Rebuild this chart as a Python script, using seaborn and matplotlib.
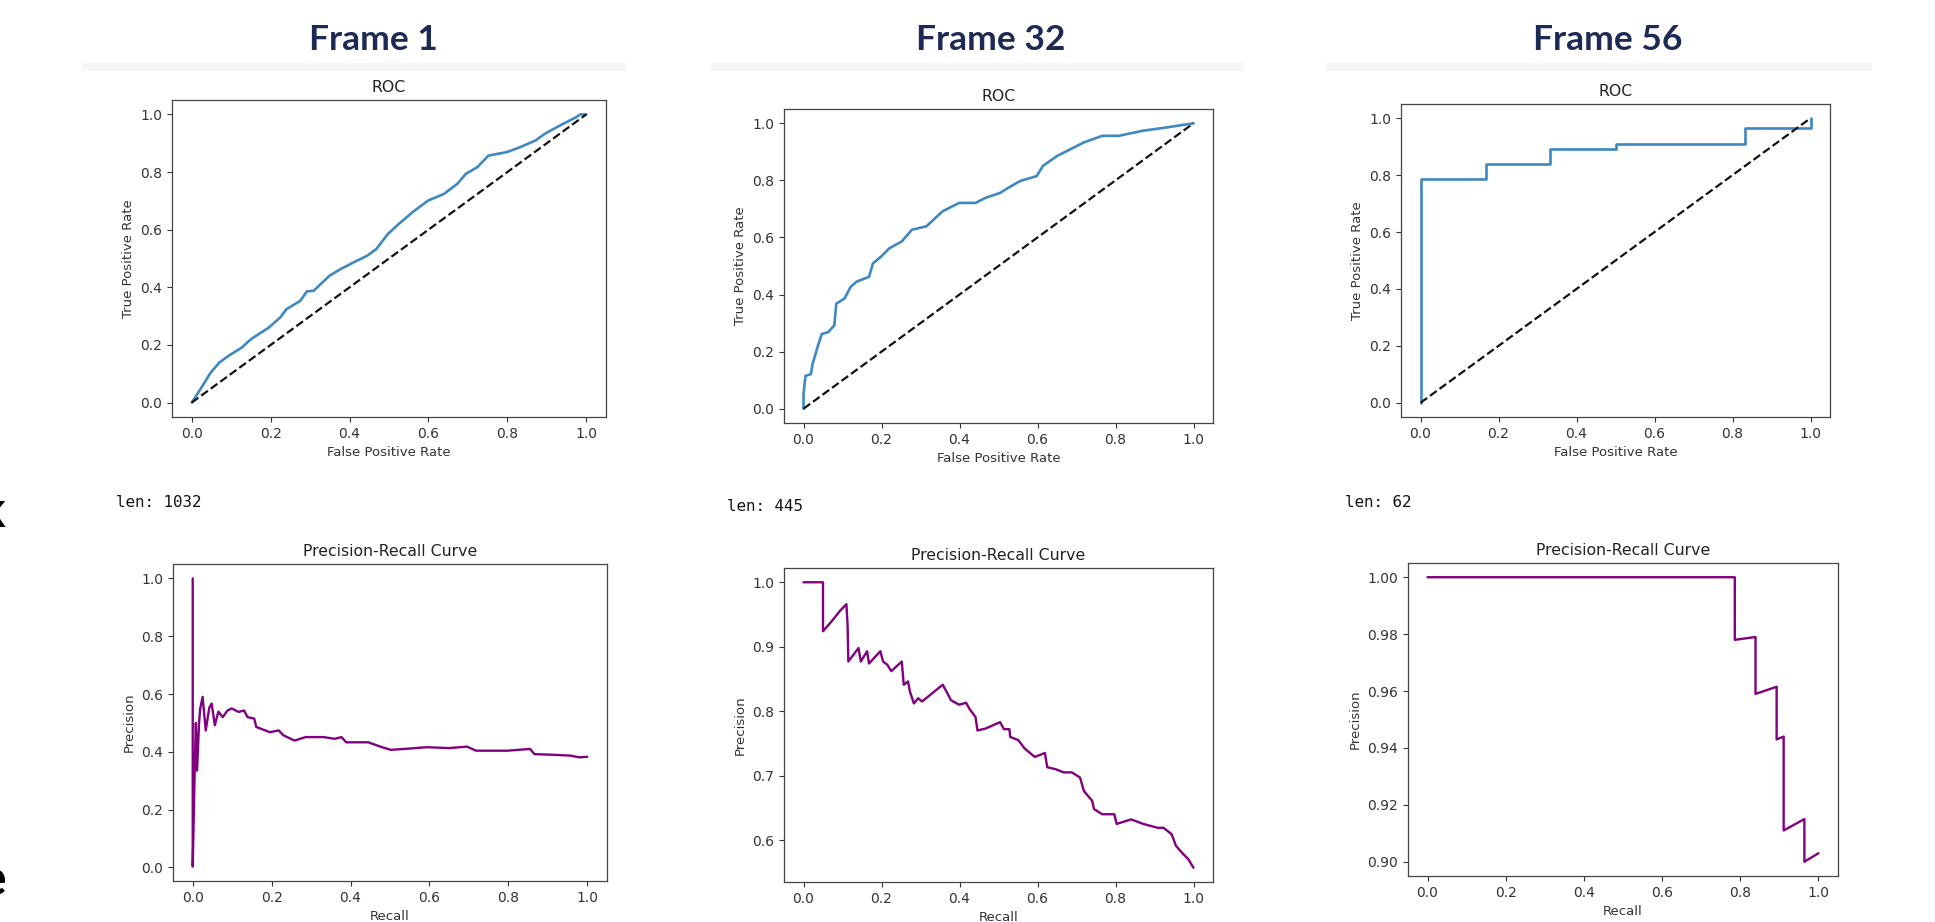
import matplotlib
matplotlib.use('Agg')
import matplotlib.pyplot as plt
from matplotlib.patches import Rectangle
import seaborn as sns

# ---- data ----
frame_titles = ['Frame 1', 'Frame 32', 'Frame 56']
len_labels = ['len: 1032', 'len: 445', 'len: 62']
diag = [0.0, 1.0]

# Frame 1 ROC
fpr_1 = [0.0, 0.019, 0.048, 0.07, 0.093, 0.127, 0.15, 0.195, 0.224, 0.24, 0.275, 0.292,
         0.309, 0.349, 0.377, 0.411, 0.445, 0.468, 0.497, 0.525, 0.559, 0.599, 0.639,
         0.673, 0.695, 0.724, 0.752, 0.798, 0.832, 0.872, 0.895, 0.934, 0.974, 0.985, 1.0]
tpr_1 = [0.0, 0.04, 0.104, 0.139, 0.162, 0.191, 0.22, 0.26, 0.295, 0.324, 0.353, 0.386,
         0.388, 0.44, 0.463, 0.487, 0.51, 0.533, 0.585, 0.62, 0.66, 0.701, 0.724,
         0.759, 0.794, 0.817, 0.857, 0.869, 0.886, 0.91, 0.933, 0.962, 0.99, 1.0, 1.0]

# Frame 32 ROC
fpr_32 = [0.0, 0.0, 0.005, 0.019, 0.023, 0.031, 0.037, 0.047, 0.063, 0.079, 0.084, 0.105,
          0.121, 0.136, 0.168, 0.178, 0.199, 0.22, 0.252, 0.278, 0.315, 0.357, 0.399,
          0.441, 0.467, 0.504, 0.525, 0.556, 0.598, 0.614, 0.651, 0.693, 0.719, 0.766,
          0.808, 0.871, 0.934, 1.0]
tpr_32 = [0.0, 0.05, 0.115, 0.121, 0.156, 0.192, 0.221, 0.262, 0.268, 0.292, 0.368, 0.386,
          0.427, 0.445, 0.462, 0.509, 0.533, 0.562, 0.586, 0.627, 0.639, 0.692, 0.721,
          0.721, 0.739, 0.756, 0.774, 0.798, 0.815, 0.851, 0.886, 0.915, 0.933, 0.956,
          0.956, 0.974, 0.986, 1.0]

# Frame 56 ROC
fpr_56 = [0.0, 0.0, 0.167, 0.167, 0.333, 0.333, 0.5, 0.5, 0.833, 0.833, 1.0, 1.0]
tpr_56 = [0.0, 0.786, 0.786, 0.839, 0.839, 0.893, 0.893, 0.911, 0.911, 0.964, 0.964, 1.0]

# Frame 1 precision-recall
rec_1 = [0.0, 0.0, 0.005, 0.008, 0.011, 0.016, 0.019, 0.025, 0.033, 0.042, 0.048, 0.056,
         0.065, 0.076, 0.088, 0.099, 0.116, 0.13, 0.139, 0.156, 0.161, 0.184, 0.195,
         0.218, 0.23, 0.258, 0.286, 0.332, 0.36, 0.377, 0.389, 0.445, 0.48, 0.502,
         0.536, 0.593, 0.65, 0.695, 0.718, 0.764, 0.798, 0.855, 0.866, 0.911, 0.957,
         0.98, 1.0]
prec_1 = [1.0, 0.003, 0.34, 0.5, 0.335, 0.5, 0.55, 0.59, 0.474, 0.553, 0.567, 0.492,
          0.539, 0.52, 0.543, 0.55, 0.538, 0.543, 0.52, 0.515, 0.486, 0.474, 0.468,
          0.474, 0.457, 0.439, 0.451, 0.451, 0.445, 0.451, 0.433, 0.433, 0.416, 0.407,
          0.41, 0.416, 0.413, 0.418, 0.404, 0.404, 0.404, 0.41, 0.392, 0.39, 0.387,
          0.381, 0.383]

# Frame 32 precision-recall
rec_32 = [0.0, 0.05, 0.05, 0.073, 0.094, 0.11, 0.113, 0.115, 0.141, 0.147, 0.163, 0.168,
          0.197, 0.204, 0.215, 0.225, 0.252, 0.257, 0.268, 0.273, 0.283, 0.294, 0.304,
          0.357, 0.367, 0.378, 0.399, 0.417, 0.425, 0.441, 0.446, 0.467, 0.504, 0.514,
          0.528, 0.53, 0.551, 0.567, 0.593, 0.619, 0.625, 0.646, 0.667, 0.688, 0.709,
          0.719, 0.74, 0.745, 0.766, 0.797, 0.803, 0.84, 0.871, 0.908, 0.923, 0.944,
          0.955, 0.971, 0.987, 1.0]
prec_32 = [1.0, 1.0, 0.924, 0.94, 0.956, 0.966, 0.935, 0.877, 0.898, 0.877, 0.893, 0.874,
           0.893, 0.877, 0.872, 0.862, 0.877, 0.841, 0.846, 0.83, 0.812, 0.82, 0.815,
           0.841, 0.83, 0.817, 0.81, 0.813, 0.804, 0.791, 0.77, 0.773, 0.783, 0.772,
           0.772, 0.76, 0.755, 0.742, 0.729, 0.735, 0.713, 0.71, 0.705, 0.705, 0.697,
           0.676, 0.661, 0.648, 0.64, 0.64, 0.625, 0.632, 0.625, 0.619, 0.619, 0.609,
           0.591, 0.58, 0.57, 0.557]

# Frame 56 precision-recall
rec_56 = [0.0, 0.786, 0.786, 0.839, 0.839, 0.893, 0.893, 0.911, 0.911, 0.964, 0.964, 1.0]
prec_56 = [1.0, 1.0, 0.978, 0.979, 0.959, 0.9615, 0.943, 0.944, 0.911, 0.915, 0.9, 0.903]

roc_data = [(fpr_1, tpr_1), (fpr_32, tpr_32), (fpr_56, tpr_56)]
pr_data = [(rec_1, prec_1), (rec_32, prec_32), (rec_56, prec_56)]

# ---- layout (pixel boxes: x0, y0, x1, y1) ----
W, H = 1935, 922
roc_boxes = [(172, 100, 606, 417), (784, 109, 1213, 423), (1401, 104, 1830, 417)]
pr_boxes = [(173, 564, 607, 881), (784, 568, 1213, 882), (1408, 563, 1838, 876)]
title_x = [373, 991, 1608]
band_x = [(82, 626), (711, 1244), (1326, 1872)]
len_pos = [(116, 502), (727, 506), (1345, 502)]

ROC_COLOR = '#3f88c0'
PR_COLOR = '#800080'
NAVY = '#1d2a57'


def box_to_rect(box):
    x0, y0, x1, y1 = box
    return [x0 / W, 1 - y1 / H, (x1 - x0) / W, (y1 - y0) / H]


sns.set_style('ticks')
plt.rcParams['font.family'] = ['DejaVu Sans']
plt.rcParams.update({
    'font.size': 9.5,
    'axes.titlesize': 11.3,
    'axes.labelsize': 9.5,
    'xtick.labelsize': 10,
    'ytick.labelsize': 10,
    'axes.edgecolor': '#444444',
    'axes.linewidth': 0.9,
    'xtick.color': '#333333',
    'ytick.color': '#333333',
    'axes.labelcolor': '#333333',
    'text.color': '#222222',
    'xtick.major.size': 3.5,
    'ytick.major.size': 3.5,
})

fig = plt.figure(figsize=(W / 100, H / 100), dpi=100)

for i in range(3):
    # frame heading + faint bar under it
    fig.text(title_x[i] / W, 1 - 40 / H, frame_titles[i], ha='center', va='center',
             fontsize=25.5, fontweight='bold', color=NAVY, family=['Lato', 'DejaVu Sans'])
    bx0, bx1 = band_x[i]
    fig.add_artist(Rectangle((bx0 / W, 1 - 71 / H), (bx1 - bx0) / W, 8 / H,
                             transform=fig.transFigure, color='#f6f6f6', lw=0, zorder=0))

    # ROC
    ax = fig.add_axes(box_to_rect(roc_boxes[i]))
    fpr, tpr = roc_data[i]
    sns.lineplot(x=fpr, y=tpr, sort=False, estimator=None, ax=ax,
                 color=ROC_COLOR, linewidth=1.9)
    sns.lineplot(x=diag, y=diag, sort=False, estimator=None, ax=ax,
                 color='#111111', linestyle='--', linewidth=1.6)
    ax.set_title('ROC', color='#222222')
    ax.set_xlabel('False Positive Rate')
    ax.set_ylabel('True Positive Rate')

    # notebook print line
    lx, ly = len_pos[i]
    fig.text(lx / W, 1 - ly / H, len_labels[i], ha='left', va='center',
             fontsize=11.4, family='DejaVu Sans Mono', color='#111111')

    # precision-recall
    ax = fig.add_axes(box_to_rect(pr_boxes[i]))
    rec, prec = pr_data[i]
    sns.lineplot(x=rec, y=prec, sort=False, estimator=None, ax=ax,
                 color=PR_COLOR, linewidth=1.7)
    ax.set_title('Precision-Recall Curve', color='#222222')
    ax.set_xlabel('Recall')
    ax.set_ylabel('Precision')

# cut-off slide text on the left edge
fig.text(6 / W, 1 - 527 / H, 'k', ha='right', va='baseline', fontsize=36,
         fontweight='bold', color='black', family=['Lato', 'DejaVu Sans'])
fig.text(6 / W, 1 - 895 / H, 'e', ha='right', va='baseline', fontsize=36,
         fontweight='bold', color='black', family=['Lato', 'DejaVu Sans'])

fig.savefig('out.png', dpi=100)
